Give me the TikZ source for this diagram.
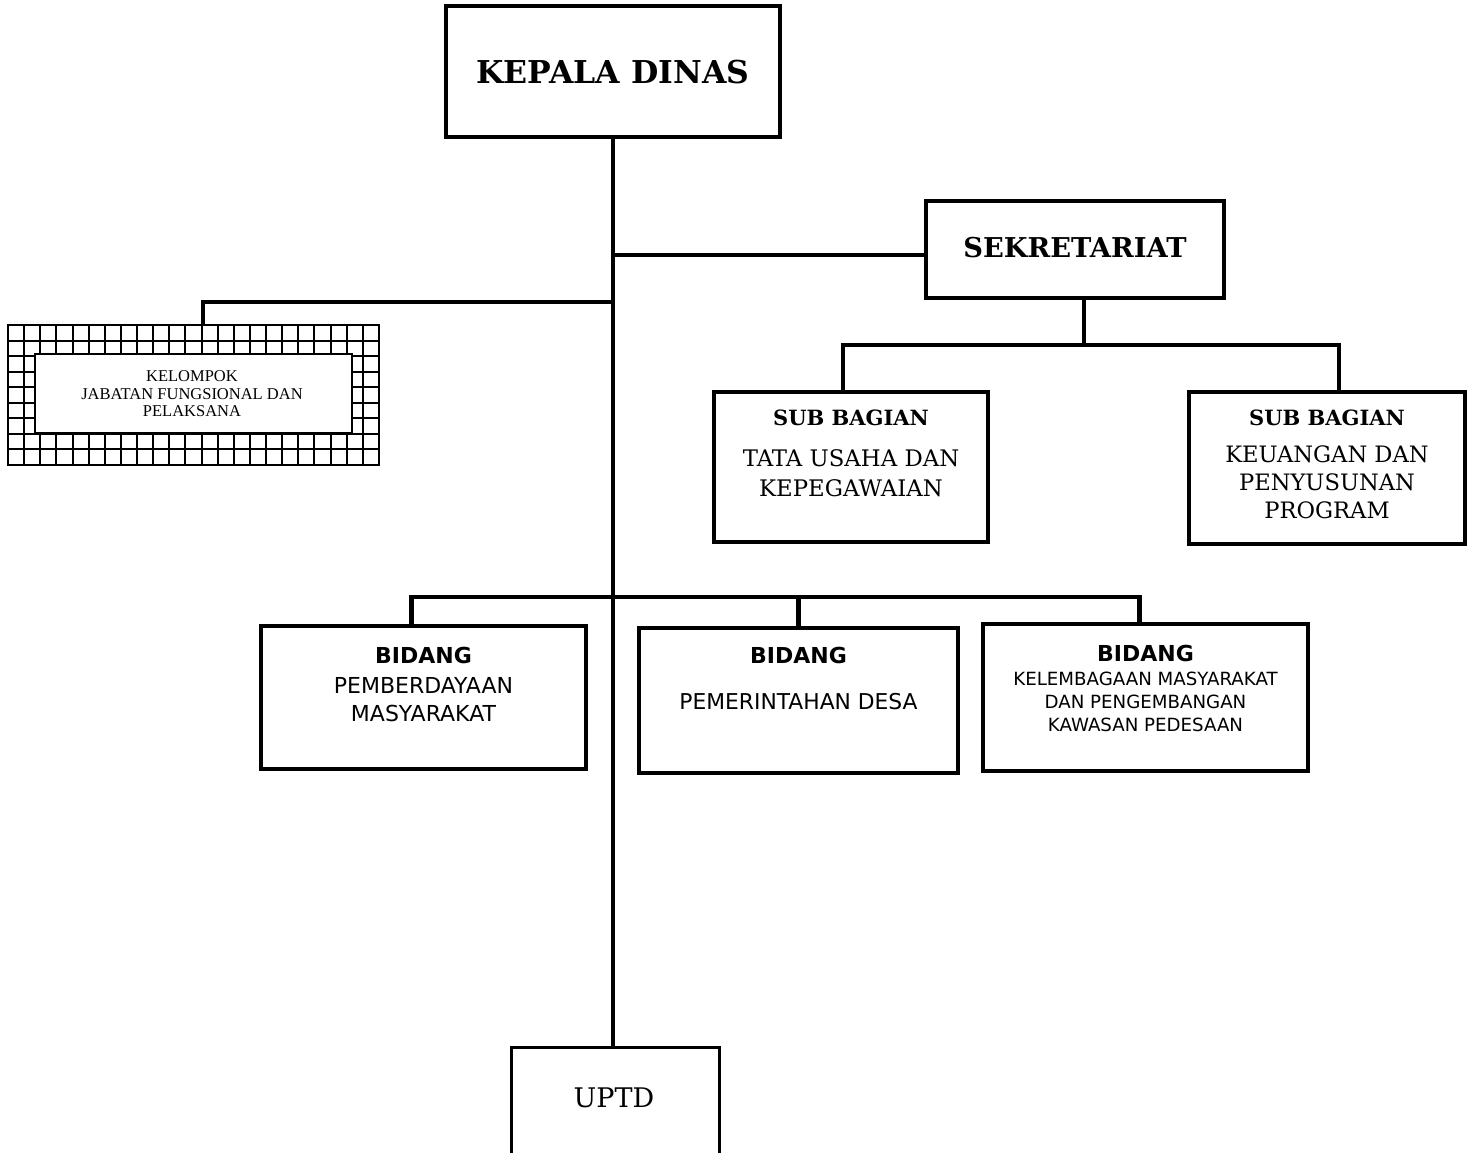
\documentclass[tikz,border=0pt]{standalone}
\usepackage{fontspec}
\setmainfont{DejaVu Serif}
\newfontfamily\tnr{Liberation Serif}
\newfontfamily\tah{DejaVu Sans}
\begin{document}
\begin{tikzpicture}[x=1pt,y=-1pt,
  box/.style={draw,line width=4pt,inner sep=0pt},
  thinbox/.style={draw,line width=3pt,inner sep=0pt},
  conn/.style={line width=4.5pt,line cap=rect},
  gridline/.style={line width=2pt},
  txt/.style={inner sep=0pt,anchor=center}]
\useasboundingbox[fill=white] (0,0) rectangle (1473,1152);

% boxes
\node[box,minimum width=334,minimum height=131] (kd) at (613,71.5) {};
\node[box,minimum width=298,minimum height=97] (sek) at (1075,249.5) {};
\node[box,minimum width=274,minimum height=150] (sub1) at (851,467) {};
\node[box,minimum width=276,minimum height=152] (sub2) at (1327,468) {};
\node[box,minimum width=325,minimum height=143] (b1) at (423.5,697.5) {};
\node[box,minimum width=319,minimum height=145] (b2) at (798.5,700.5) {};
\node[box,minimum width=325,minimum height=147] (b3) at (1145.5,697.5) {};
\node[thinbox,minimum width=208,minimum height=113] (uptd) at (615,1103.5) {};

% grid box
\foreach \i in {0,...,23}
  \draw[gridline] ({8+\i*371/23},325) -- ++(0,140);
\foreach \j in {0,...,9}
  \draw[gridline] (8,{325+\j*140/9}) -- ++(371,0);
\node[draw,line width=2pt,minimum width=371,minimum height=140,inner sep=0pt] (kjf) at (193.5,395) {};
\node[draw,fill=white,line width=2pt,minimum width=317,minimum height=79,inner sep=0pt] (kjfin) at (193.5,393.5) {};

% connectors
\draw[conn] (kd.south) -- (kd.south |- uptd.north);
\draw[conn] ([yshift=-5.5pt]kd.south |- sek.west) -- ([yshift=-5.5pt]sek.west);
\coordinate (jk) at (613,302);
\draw[conn] (jk) -| ([xshift=9.5pt]kjf.north);
\coordinate (sbar) at (1084,345);
\draw[conn] (sek.south -| sbar) -- (sbar);
\draw[conn] ([xshift=-8pt]sub1.north) |- (sbar) -| ([xshift=12pt]sub2.north);
\coordinate (bbar) at (613,597);
\draw[conn] ([xshift=-12pt]b1.north) |- (bbar) -| ([xshift=-6pt]b3.north);
\draw[conn] (bbar -| b2.north) -- (b2.north);

% texts
\node[txt] (kdt) at (613,72) {\fontsize{31.5}{37}\selectfont\bfseries KEPALA DINAS};
\node[txt] (sekt) at (1075,248) {\fontsize{27.3}{32}\selectfont\bfseries SEKRETARIAT};

\node[txt] (kjf1) at (192,376) {\tnr\fontsize{16.5}{19}\selectfont KELOMPOK};
\node[txt] (kjf2) at (192,394) {\tnr\fontsize{16.5}{19}\selectfont JABATAN FUNGSIONAL DAN};
\node[txt] (kjf3) at (192,411) {\tnr\fontsize{16.5}{19}\selectfont PELAKSANA};

\node[txt] (s1a) at (851,418) {\fontsize{21}{24}\selectfont\bfseries SUB BAGIAN};
\node[txt] (s1b) at (851,458) {\fontsize{22.8}{26}\selectfont TATA USAHA DAN};
\node[txt] (s1c) at (851,488) {\fontsize{22.8}{26}\selectfont KEPEGAWAIAN};

\node[txt] (s2a) at (1327,418) {\fontsize{21}{24}\selectfont\bfseries SUB BAGIAN};
\node[txt] (s2b) at (1327,454) {\fontsize{22.6}{26}\selectfont KEUANGAN DAN};
\node[txt] (s2c) at (1327,482) {\fontsize{22.6}{26}\selectfont PENYUSUNAN};
\node[txt] (s2d) at (1327,510) {\fontsize{22.6}{26}\selectfont PROGRAM};

\node[txt] (b1a) at (423.5,655) {\tah\fontsize{22}{26}\selectfont\bfseries BIDANG};
\node[txt] (b1b) at (423.5,685) {\tah\fontsize{22}{26}\selectfont PEMBERDAYAAN};
\node[txt] (b1c) at (423.5,713) {\tah\fontsize{22}{26}\selectfont MASYARAKAT};

\node[txt] (b2a) at (798.5,655) {\tah\fontsize{22}{26}\selectfont\bfseries BIDANG};
\node[txt] (b2b) at (798.5,702) {\tah\fontsize{21.8}{26}\selectfont PEMERINTAHAN DESA};

\node[txt] (b3a) at (1145.5,653) {\tah\fontsize{22}{26}\selectfont\bfseries BIDANG};
\node[txt] (b3b) at (1145.5,679) {\tah\fontsize{18.2}{22}\selectfont KELEMBAGAAN MASYARAKAT};
\node[txt] (b3c) at (1145.5,702) {\tah\fontsize{18.2}{22}\selectfont DAN PENGEMBANGAN};
\node[txt] (b3d) at (1145.5,725) {\tah\fontsize{18.2}{22}\selectfont KAWASAN PEDESAAN};

\node[txt] (uptdt) at (614,1098) {\fontsize{27}{32}\selectfont UPTD};
\end{tikzpicture}
\end{document}
